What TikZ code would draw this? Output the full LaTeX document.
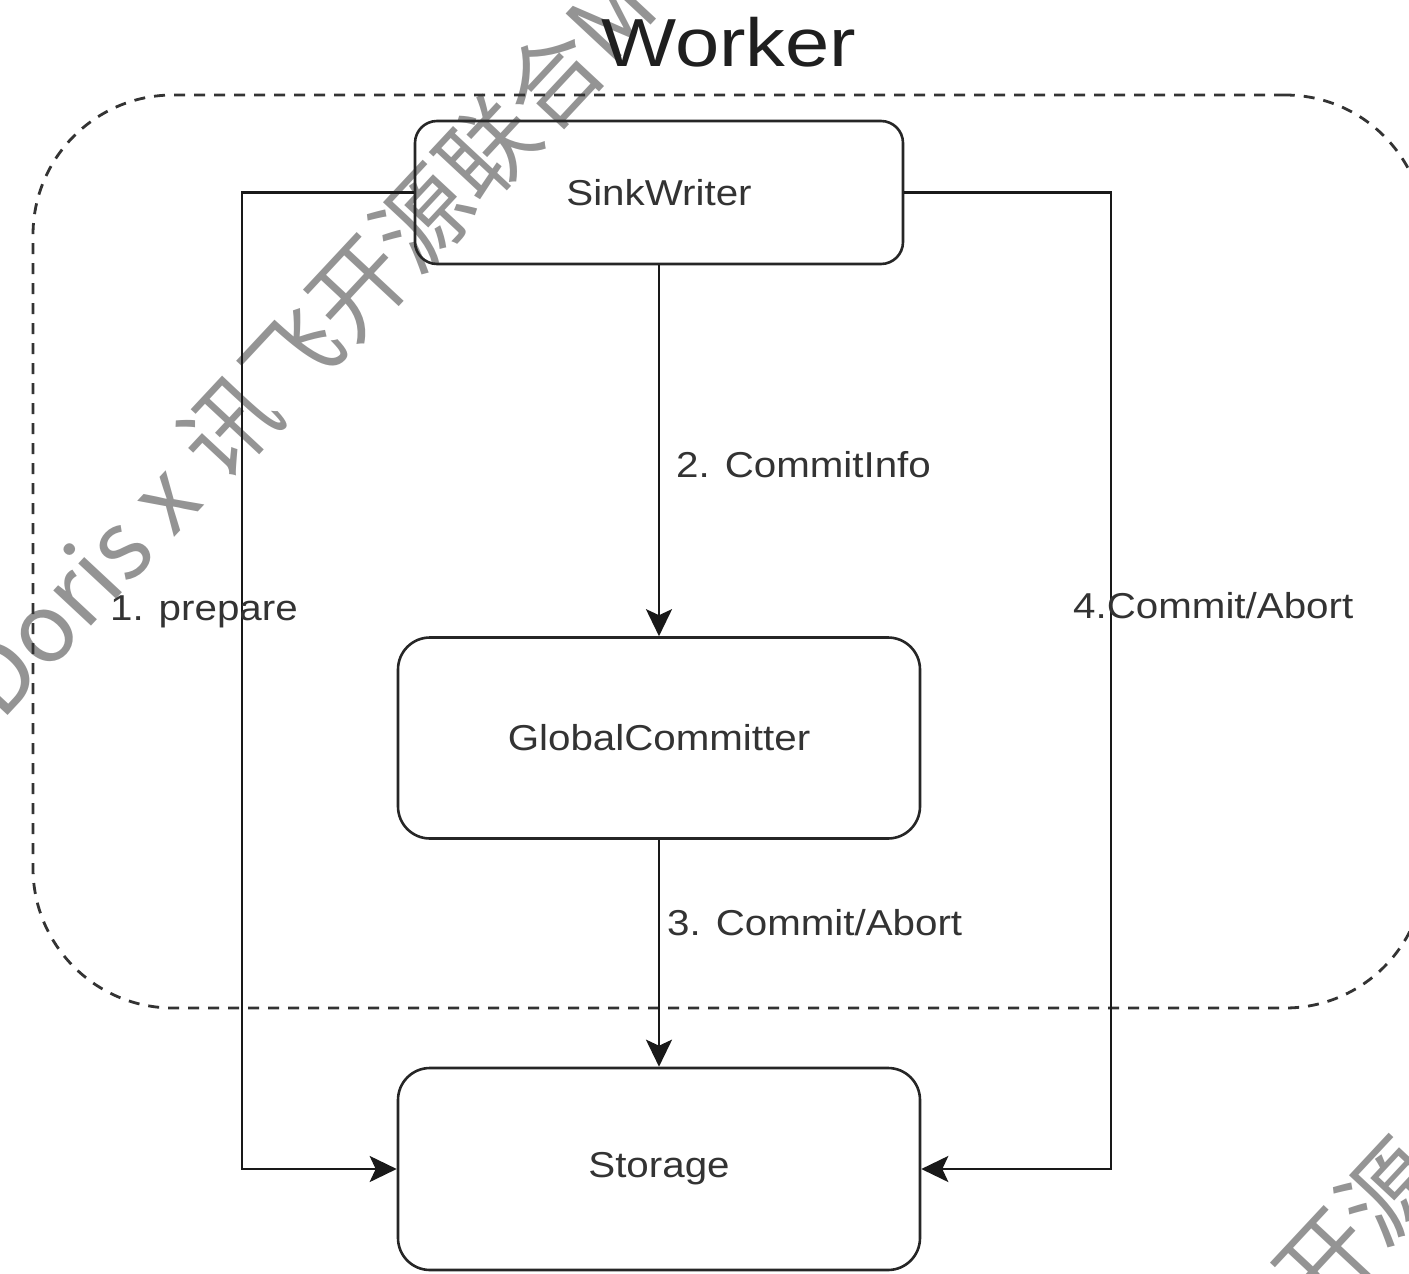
\documentclass[tikz,border=0pt]{standalone}
\usepackage{fontspec}
\usepackage{graphicx}
\setmainfont{Liberation Sans}
\newfontfamily\wmfont{Noto Sans CJK SC}
\usetikzlibrary{arrows.meta}
% labels are set slightly wider than the font's natural width
\newcommand{\widetext}[1]{\scalebox{1.12}[1]{#1}}

\begin{document}
\begin{tikzpicture}[x=1pt,y=-1pt,
  stagebox/.style={draw=black!85, line width=2.6pt, rounded corners=#1,
    inner sep=0pt, font=\fontsize{36}{40}\selectfont, text=black!80},
  container/.style={draw=black!80, line width=2.8pt, rounded corners=140pt,
    dash pattern=on 11pt off 9pt, inner sep=0pt},
  flow/.style={draw=black!90, line width=2.6pt,
    -{Stealth[length=27pt,width=26pt,inset=6pt]}},
  lbl/.style={font=\fontsize{36}{40}\selectfont, text=black!80, inner sep=0pt},
  titletext/.style={font=\fontsize{68}{72}\selectfont, text=black!88, inner sep=0pt},
  wm/.style={font=\wmfont\fontsize{95}{100}\selectfont, text=black!42,
    inner sep=0pt, rotate=47}
]
\useasboundingbox (0,0) rectangle (1409,1274);
\clip (0,0) rectangle (1409,1274);

% watermark, drawn underneath the diagram
\node[wm, anchor=base west] (wmb) at (222,486) {讯飞开源联合M};
\node[wm, anchor=base east] (wma) at (222,486) {Doris x\kern0.25em};
\node[wm, anchor=base west] (wmc) at (1318,1320) {开源};

% worker container and its title
\node[container, minimum width=1392pt, minimum height=913pt] (worker) at (729,551.5) {};
\node[titletext, anchor=base] (wtitle) at (729,66) {\scalebox{1.17}[1]{Worker}};

% stages
\node[stagebox=22pt, minimum width=488pt, minimum height=143pt] (sw) at (659,192.5) {\widetext{SinkWriter}};
\node[stagebox=32pt, minimum width=522pt, minimum height=201pt] (gc) at (659,738) {\widetext{GlobalCommitter}};
\node[stagebox=32pt, minimum width=522pt, minimum height=202pt] (st) at (659,1169) {\widetext{Storage}};

% side routes
\coordinate (lx) at (242,0);
\coordinate (rx) at (1111,0);

\draw[flow] (sw) -- (gc);
\draw[flow] (gc) -- (st);
\draw[flow] (sw.west) -- (sw.west -| lx) -- (lx |- st.west) -- (st.west);
\draw[flow] (sw.east) -- (sw.east -| rx) -- (rx |- st.east) -- (st.east);

% connector labels
\node[lbl, anchor=base west] (l1) at (110,620) {\widetext{1. prepare}};
\node[lbl, anchor=base west] (l2) at (676,477) {\widetext{2. CommitInfo}};
\node[lbl, anchor=base west] (l3) at (667,935) {\widetext{3. Commit/Abort}};
\node[lbl, anchor=base west] (l4) at (1073,618) {\widetext{4.Commit/Abort}};
\end{tikzpicture}
\end{document}
